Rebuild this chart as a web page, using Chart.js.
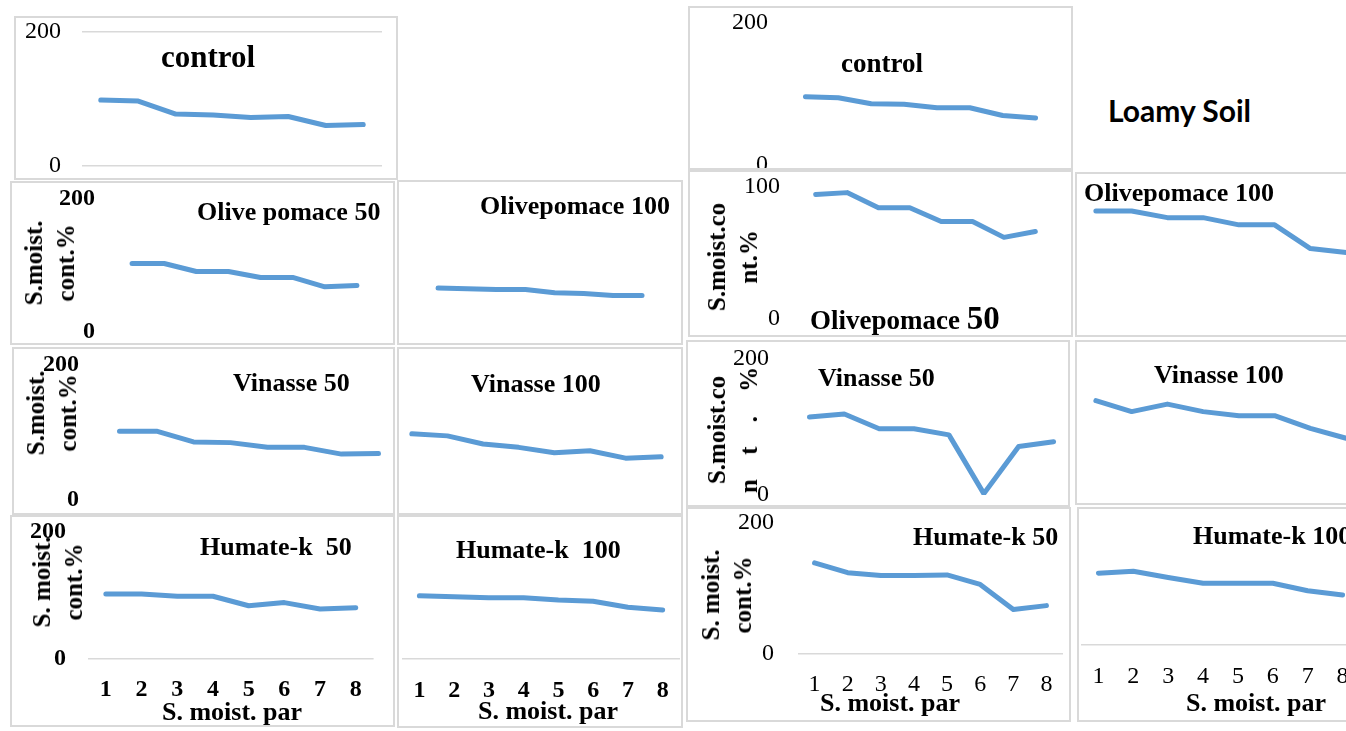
<!DOCTYPE html>
<html>
<head>
<meta charset="utf-8">
<script src="https://cdn.jsdelivr.net/npm/chart.js@4.4.0/dist/chart.umd.min.js"></script>
<style>
html, body { margin: 0; padding: 0; background: #fff; overflow: hidden; width: 1346px; height: 731px; }
.panel { position: absolute; box-sizing: border-box; border: 2px solid #d9d9d9; background: #fff; overflow: hidden; }
.panel canvas { position: absolute; }
.t { position: absolute; font-family: "Liberation Serif", "Times New Roman", serif; font-weight: bold; color: #000;
     white-space: pre; line-height: 1; transform: translateY(-50%); }
.xt { position: absolute; font-family: "Liberation Serif", "Times New Roman", serif; font-weight: bold; color: #000;
      white-space: pre; line-height: 1; font-size: 26px; transform: translate(-50%, -50%); }
.yt { position: absolute; font-family: "Liberation Serif", "Times New Roman", serif; font-weight: bold; color: #000;
      white-space: pre; text-align: center; font-size: 25px; line-height: 32px; transform: translate(-50%, -50%) rotate(-90deg); }
#loamy { position: absolute; left: 1108px; top: 110px; transform: translateY(-50%); font-family: Lato, "Open Sans", sans-serif;
         font-weight: bold; font-size: 30px; color: #000; white-space: pre; }
</style>
</head>
<body>
<script>
// moisture parameter steps on the x axis
const steps = ['1', '2', '3', '4', '5', '6', '7', '8']
const range200 = [0, 200]
const range100 = [0, 100]

// left block (first soil)
const controlA = [98, 96.5, 77, 75.5, 72, 73.5, 60, 61.5]
const olive50A = [103, 103, 91, 91, 82, 82, 68, 70]
const olive100A = [66, 65, 64, 64, 59, 58, 55, 55]
const vinasse50A = [102, 102, 86, 85, 78, 78, 68, 69]
const vinasse100A = [98, 95, 83, 78, 70, 73, 62, 64]
const humate50A = [101.5, 101.5, 98, 98, 83, 88, 78, 80]
const humate100A = [99.5, 98, 96.5, 96.5, 93, 91, 81.5, 77]

// right block (loamy soil)
const controlL = [96, 94.5, 86, 85.5, 80.5, 80.5, 69.5, 66]
const olive50L = [94, 95.5, 84, 84, 73.5, 73.5, 61.5, 66]
const olive100L = [81.5, 81.5, 76.5, 76.5, 71, 71, 53, 50]
const vinasse50L = [114, 118.5, 97, 97, 88, 2, 71, 78]
const vinasse100L = [138, 122, 133, 122, 116, 116, 97.5, 83]
const humate50L = [138.5, 123.5, 119, 119, 120, 105.5, 67, 73]
const humate100L = [110, 113, 103.5, 94.5, 94.5, 94.5, 83, 76.5]

Chart.defaults.font.family = '"Liberation Serif", "Times New Roman", serif'

// box: [left, top, right, bottom] of the frame, plot: [left, right, top of range, zero line]
const panels = [
  { data: controlA, range: range200, box: [14, 16, 398, 180], plot: [82, 382, 31.7, 165.7],
    yFont: 'normal', yPad: 21, grid: 'both',
    titles: [{ text: 'control', x: 161, cy: 56, size: 31 }] },
  { data: olive50A, range: range200, box: [10, 181, 395, 345], plot: [116, 373, 199, 332],
    yFont: 'bold', yPad: 21, grid: 'none',
    titles: [{ text: 'Olive pomace 50', x: 197, cy: 212, size: 26 }],
    yTitle: { lines: ['S.moist.', 'cont.%'], cx: 50, cy: 263 } },
  { data: olive100A, range: range200, box: [397, 180, 683, 345], plot: [423.5, 656.6, 199, 332],
    grid: 'none',
    titles: [{ text: 'Olivepomace 100', x: 480, cy: 206, size: 26 }] },
  { data: vinasse50A, range: range200, box: [12, 347, 395, 515], plot: [101, 397, 365, 500],
    yFont: 'bold', yPad: 22, grid: 'none',
    titles: [{ text: 'Vinasse 50', x: 233, cy: 383, size: 26 }],
    yTitle: { lines: ['S.moist.', 'cont.%'], cx: 52, cy: 413 } },
  { data: vinasse100A, range: range200, box: [397, 347, 683, 515], plot: [394, 679, 365, 500],
    grid: 'none',
    titles: [{ text: 'Vinasse 100', x: 471, cy: 384, size: 26 }] },
  { data: humate50A, range: range200, box: [10, 515, 395, 727], plot: [88, 373.6, 531.7, 658.3],
    yFont: 'bold', yPad: 22, xFont: 'bold', grid: 'zero',
    titles: [{ text: 'Humate-k  50', x: 200, cy: 547, size: 26 }],
    yTitle: { lines: ['S. moist.', 'cont.%'], cx: 58, cy: 582 },
    xTitle: { text: 'S. moist. par', cx: 232, cy: 712 } },
  { data: humate100A, range: range200, box: [397, 515, 683, 728], plot: [402, 680, 532, 659],
    xFont: 'bold', grid: 'zero',
    titles: [{ text: 'Humate-k  100', x: 456, cy: 550, size: 26 }],
    xTitle: { text: 'S. moist. par', cx: 548, cy: 711 } },
  { data: controlL, range: range200, box: [688, 6, 1073, 170], plot: [789, 1052, 22.7, 165],
    yFont: 'normal', yPad: 21, grid: 'none',
    titles: [{ text: 'control', x: 841, cy: 63, size: 27 }] },
  { data: olive50L, range: range100, box: [688, 170, 1073, 337], plot: [800, 1051, 186.7, 318.3],
    yFont: 'normal', yPad: 20, grid: 'none',
    titles: [{ html: 'Olivepomace <span style="font-size:33px">50</span>', x: 810, cy: 318, size: 27 }],
    yTitle: { lines: ['S.moist.co', 'nt.%'], cx: 733, cy: 257 } },
  { data: olive100L, range: range100, box: [1075, 172, 1370, 337], plot: [1078, 1364, 186.7, 318.3],
    grid: 'none',
    titles: [{ text: 'Olivepomace 100', x: 1084, cy: 193, size: 26 }] },
  { data: vinasse50L, range: range200, box: [686, 340, 1070, 507], plot: [792, 1071, 358.3, 495],
    yFont: 'normal', yPad: 23, grid: 'none',
    titles: [{ text: 'Vinasse 50', x: 818, cy: 378, size: 26 }],
    yTitle: { lines: ['S.moist.co', 'n t . %'], cx: 733, cy: 430, wordSpacing: 18 } },
  { data: vinasse100L, range: range200, box: [1075, 340, 1370, 505], plot: [1078, 1364, 358.3, 495],
    grid: 'none',
    titles: [{ text: 'Vinasse 100', x: 1154, cy: 375, size: 26 }] },
  { data: humate50L, range: range200, box: [686, 507, 1071, 722], plot: [798, 1063, 522.7, 653.3],
    yFont: 'normal', yPad: 24, xFont: 'normal', grid: 'zero',
    titles: [{ text: 'Humate-k 50', x: 913, cy: 537, size: 26 }],
    yTitle: { lines: ['S. moist.', 'cont.%'], cx: 727, cy: 595 },
    xTitle: { text: 'S. moist. par', cx: 890, cy: 703 } },
  { data: humate100L, range: range200, box: [1077, 507, 1370, 722], plot: [1081, 1360, 514.4, 645],
    xFont: 'normal', grid: 'zero',
    titles: [{ text: 'Humate-k 100', x: 1193, cy: 536, size: 26 }],
    xTitle: { text: 'S. moist. par', cx: 1256, cy: 703 } }
]

function gridColor(mode, ctx) {
  if (mode === 'both') return '#d9d9d9'
  if (mode === 'zero' && ctx.tick && ctx.tick.value === 0) return '#d9d9d9'
  return 'rgba(0,0,0,0)'
}

function drawPanel(p) {
  // wide margin round the frame so tick-label padding never squeezes the plot area
  const M = 60
  const [bl, bt, br, bb] = p.box
  const div = document.createElement('div')
  div.className = 'panel'
  div.style.left = bl + 'px'
  div.style.top = bt + 'px'
  div.style.width = (br - bl) + 'px'
  div.style.height = (bb - bt) + 'px'
  document.body.appendChild(div)

  const cw = br - bl + 2 * M
  const ch = bb - bt + 2 * M
  const cv = document.createElement('canvas')
  cv.width = cw
  cv.height = ch
  cv.style.width = cw + 'px'
  cv.style.height = ch + 'px'
  cv.style.left = (-M - 2) + 'px'
  cv.style.top = (-M - 2) + 'px'
  div.appendChild(cv)

  const ox = bl - M
  const oy = bt - M
  const [pl, pr, ptop, pbot] = p.plot
  const cl = pl - ox, cr = pr - ox, ct = ptop - oy, cb = pbot - oy

  new Chart(cv, {
    type: 'line',
    data: {
      labels: steps,
      datasets: [{
        data: p.data,
        borderColor: '#5b9bd5',
        borderWidth: 5,
        pointRadius: 0,
        tension: 0,
        fill: false,
        borderJoinStyle: 'round',
        borderCapStyle: 'round'
      }]
    },
    options: {
      responsive: false,
      animation: false,
      devicePixelRatio: 1,
      layout: { padding: { left: 0, top: ct, right: cw - cr, bottom: 0 } },
      plugins: { legend: { display: false }, tooltip: { enabled: false } },
      scales: {
        x: {
          offset: true,
          grid: { display: false, drawTicks: false },
          border: { display: false },
          ticks: { display: !!p.xFont, font: { size: 24, weight: p.xFont || 'normal' }, color: '#000',
                   padding: 17, maxRotation: 0, autoSkip: false },
          afterFit: s => { s.height = ch - cb }
        },
        y: {
          min: p.range[0],
          max: p.range[p.range.length - 1],
          afterBuildTicks: s => { s.ticks = p.range.map(v => ({ value: v })) },
          grid: { display: p.grid !== 'none', drawTicks: false, lineWidth: 1.5,
                  color: ctx => gridColor(p.grid, ctx) },
          border: { display: false },
          ticks: { display: !!p.yFont, font: { size: 24, weight: p.yFont || 'normal' }, color: '#000',
                   padding: p.yPad || 0 },
          afterFit: s => { s.width = cl }
        }
      }
    }
  })

  const rel = (x, y) => [x - bl - 2, y - bt - 2]
  for (const t of p.titles || []) {
    const el = document.createElement('div')
    el.className = 't'
    el.style.fontSize = t.size + 'px'
    if (t.html) el.innerHTML = t.html
    else el.textContent = t.text
    const [x, y] = rel(t.x, t.cy)
    el.style.left = x + 'px'
    el.style.top = y + 'px'
    div.appendChild(el)
  }
  if (p.yTitle) {
    const el = document.createElement('div')
    el.className = 'yt'
    el.innerHTML = p.yTitle.lines.join('<br>')
    if (p.yTitle.wordSpacing) el.style.wordSpacing = p.yTitle.wordSpacing + 'px'
    const [x, y] = rel(p.yTitle.cx, p.yTitle.cy)
    el.style.left = x + 'px'
    el.style.top = y + 'px'
    div.appendChild(el)
  }
  if (p.xTitle) {
    const el = document.createElement('div')
    el.className = 'xt'
    el.textContent = p.xTitle.text
    const [x, y] = rel(p.xTitle.cx, p.xTitle.cy)
    el.style.left = x + 'px'
    el.style.top = y + 'px'
    div.appendChild(el)
  }
}

panels.forEach(drawPanel)

const soil = document.createElement('div')
soil.id = 'loamy'
soil.textContent = 'Loamy Soil'
document.body.appendChild(soil)
</script>
</body>
</html>
